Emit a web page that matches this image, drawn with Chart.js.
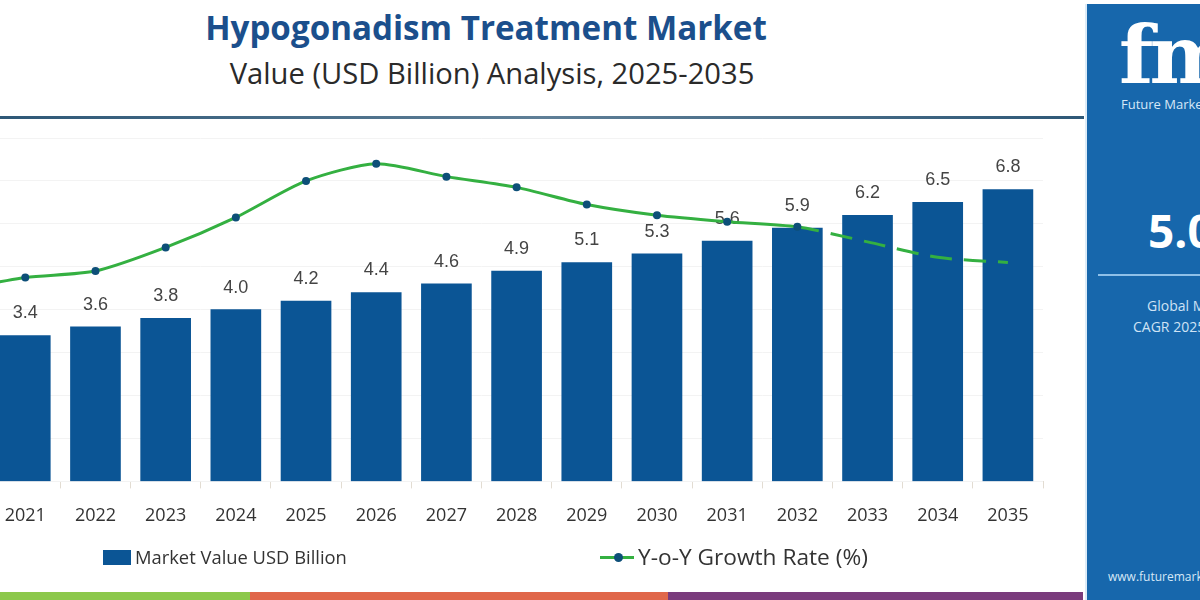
<!DOCTYPE html>
<html>
<head>
<meta charset="utf-8">
<script src="https://cdn.jsdelivr.net/npm/chart.js@4.4.1/dist/chart.umd.min.js"></script>
<style>
  html, body { margin:0; padding:0; width:1200px; height:600px; overflow:hidden; background:#ffffff; font-family:"Open Sans", sans-serif; }
  .abs { position:absolute; white-space:nowrap; }
  #title { top:10px; color:#1b4f8c; font-weight:700; font-size:30px; line-height:36px; }
  #subtitle { top:56px; color:#2a2a2a; font-size:26px; line-height:34px; }
  #rule { left:0; top:116px; width:1084px; height:3px; background:linear-gradient(to right,#2e5877,#5f7f97 50%,#2e5877); }
  #chartBox { left:-84px; top:130px; width:1131px; height:418px; }
  #side { left:1085px; top:4px; width:115px; height:596px; background:#1767ac; border-left:2px solid #dcebf7; overflow:hidden; }
  .legText { color:#333; font-size:19px; line-height:24px; }
  #strip { left:0; top:592px; height:8px; width:1083px; }
</style>
</head>
<body>
<div id="title" class="abs">Hypogonadism Treatment Market</div>
<div id="subtitle" class="abs">Value (USD Billion) Analysis, 2025-2035</div>
<div id="rule" class="abs"></div>
<div id="chartBox" class="abs"><canvas id="c"></canvas></div>

<div class="abs" style="left:103px;top:550px;width:28px;height:15px;background:#0b5595;"></div>
<div id="leg1" class="abs legText" style="left:135px;top:545px;">Market Value USD Billion</div>
<div class="abs" style="left:600px;top:556px;width:34px;height:3px;background:#34b041;"></div>
<div class="abs" style="left:614px;top:553px;width:9px;height:9px;border-radius:50%;background:#0d4f78;"></div>
<div id="leg2" class="abs legText" style="left:638px;top:545px;">Y-o-Y Growth Rate (%)</div>

<div id="strip" class="abs">
  <div class="abs" style="left:0;top:0;width:250px;height:8px;background:#8cc84b;"></div>
  <div class="abs" style="left:250px;top:0;width:418px;height:8px;background:#e0674a;"></div>
  <div class="abs" style="left:668px;top:0;width:415px;height:8px;background:#7a3b7c;"></div>
</div>

<div id="side" class="abs">
  <div class="abs" style="left:32px;top:6px;color:#ffffff;font-family:'DejaVu Serif',serif;font-weight:700;font-size:80px;line-height:90px;letter-spacing:-4px;">fmi</div>
  <div class="abs" style="left:34px;top:91px;color:#d6e8f7;font-size:13px;line-height:18px;">Future Market Insights</div>
  <div class="abs" style="left:61px;top:198px;color:#ffffff;font-weight:700;font-size:46px;line-height:56px;">5.0%</div>
  <div class="abs" style="left:11px;top:270px;width:120px;height:2px;background:#8fc0e8;"></div>
  <div class="abs" style="left:60px;top:292px;color:#cfe3f5;font-size:14px;line-height:20px;">Global Market</div>
  <div class="abs" style="left:46px;top:313px;color:#cfe3f5;font-size:14px;line-height:20px;">CAGR 2025-2035</div>
  <div class="abs" style="left:21px;top:564px;color:#d6e8f7;font-size:12px;line-height:18px;">www.futuremarketinsights.com</div>
</div>

<script>
const years = ['2020','2021','2022','2023','2024','2025','2026','2027','2028','2029','2030','2031','2032','2033','2034','2035'];
const marketValue = [3.2, 3.4, 3.6, 3.8, 4.0, 4.2, 4.4, 4.6, 4.9, 5.1, 5.3, 5.6, 5.9, 6.2, 6.5, 6.8];
const growthRate = [4.45, 4.75, 4.9, 5.45, 6.15, 7.0, 7.4, 7.1, 6.85, 6.45, 6.2, 6.05, 5.93, 5.58, 5.22, 5.1];
const dashFromIndex = 12;
const barColor = '#0b5595';
const lineColor = '#34b041';
const pointColor = '#0d4f78';

function fitWidth(id, target) {
  const el = document.getElementById(id);
  const fs = parseFloat(getComputedStyle(el).fontSize);
  const w = el.getBoundingClientRect().width;
  el.style.fontSize = (fs * target / w) + 'px';
}
function centerAt(id, cx) {
  const el = document.getElementById(id);
  const w = el.getBoundingClientRect().width;
  el.style.left = (cx - w / 2) + 'px';
}
fitWidth('title', 562); centerAt('title', 486);
fitWidth('subtitle', 525); centerAt('subtitle', 492);
fitWidth('leg1', 212);
fitWidth('leg2', 230);

const labelPlugin = {
  id: 'barLabels',
  afterDatasetDraw(chart, args) {
    if (args.index !== 0) return;
    const ctx = chart.ctx;
    ctx.save();
    ctx.font = '18px "Liberation Sans", Arial, sans-serif';
    ctx.fillStyle = '#444444';
    ctx.textAlign = 'center';
    ctx.textBaseline = 'middle';
    args.meta.data.forEach((bar, i) => {
      ctx.fillText(marketValue[i].toFixed(1), bar.x, bar.y - 22);
    });
    ctx.restore();
  }
};

new Chart(document.getElementById('c'), {
  data: {
    labels: years,
    datasets: [
      {
        type: 'bar',
        label: 'Market Value USD Billion',
        data: marketValue,
        backgroundColor: barColor,
        barThickness: 50,
        yAxisID: 'y',
        order: 1
      },
      {
        type: 'line',
        label: 'Y-o-Y Growth Rate (%)',
        data: growthRate,
        borderColor: lineColor,
        borderWidth: 3,
        tension: 0.25,
        pointRadius: growthRate.map((v, i) => i > dashFromIndex ? 0 : 4),
        pointBackgroundColor: pointColor,
        pointBorderColor: pointColor,
        pointBorderWidth: 0,
        segment: {
          borderDash: c => c.p0DataIndex >= dashFromIndex ? [22, 12] : undefined
        },
        yAxisID: 'y2',
        order: 0
      }
    ]
  },
  options: {
    responsive: true,
    maintainAspectRatio: false,
    animation: false,
    layout: { padding: { top: 8, bottom: 4, left: 0, right: 0 } },
    plugins: { legend: { display: false }, tooltip: { enabled: false } },
    scales: {
      x: {
        grid: { display: true, drawOnChartArea: false, drawTicks: true, tickLength: 7, color: '#e2dcd2', offset: true },
        border: { display: false },
        ticks: { color: '#333333', font: { family: '"Open Sans", sans-serif', size: 18 }, padding: 17 }
      },
      y: {
        min: 0, max: 8,
        ticks: { display: false, stepSize: 1 },
        grid: { color: '#f3f3f3', drawTicks: false },
        border: { display: false },
        afterFit: s => { s.width = 0; }
      },
      y2: {
        display: false,
        min: 0, max: 8
      }
    }
  },
  plugins: [labelPlugin]
});
</script>
</body>
</html>
